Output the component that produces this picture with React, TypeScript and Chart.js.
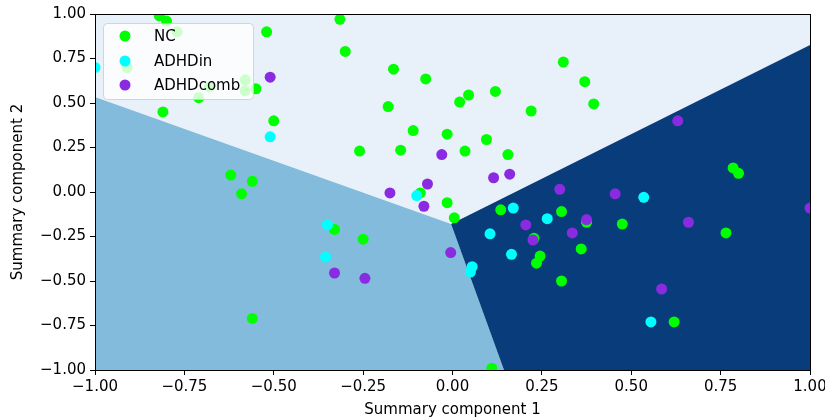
import React, { useEffect, useRef } from "react";
import { Chart, registerables } from "chart.js";

Chart.register(...registerables);

// ---- data ----
const ncPoints: [number, number][] = [
  [-0.82, 0.99], [-0.80, 0.96], [-0.77, 0.90], [-0.52, 0.90], [-0.91, 0.70],
  [-0.68, 0.59], [-0.71, 0.53], [-0.58, 0.63], [-0.58, 0.57], [-0.55, 0.58],
  [-0.81, 0.45], [-0.50, 0.40], [-0.62, 0.095], [-0.56, 0.06], [-0.59, -0.01],
  [-0.56, -0.71], [-0.315, 0.97], [-0.30, 0.79], [-0.165, 0.69], [-0.075, 0.635],
  [0.045, 0.545], [0.02, 0.505], [-0.18, 0.48], [-0.11, 0.345], [-0.015, 0.325],
  [-0.26, 0.23], [-0.145, 0.235], [0.035, 0.23], [0.12, 0.565], [0.22, 0.455],
  [0.095, 0.295], [0.155, 0.21], [0.31, 0.73], [0.37, 0.62], [0.395, 0.495],
  [0.785, 0.135], [0.80, 0.105], [-0.09, -0.005], [-0.015, -0.06], [0.005, -0.145],
  [-0.33, -0.21], [-0.25, -0.265], [0.135, -0.10], [0.305, -0.11], [0.375, -0.17],
  [0.475, -0.18], [0.228, -0.26], [0.36, -0.32], [0.245, -0.36], [0.235, -0.40],
  [0.305, -0.50], [0.62, -0.73], [0.765, -0.23], [0.11, -0.99],
];
const adhdInPoints: [number, number][] = [
  [-1.0, 0.70], [-0.51, 0.31], [-0.10, -0.02], [-0.35, -0.185], [-0.355, -0.365],
  [0.055, -0.42], [0.05, -0.45], [0.17, -0.09], [0.265, -0.15], [0.535, -0.03],
  [0.105, -0.235], [0.165, -0.35], [0.555, -0.73],
];
const adhdCombPoints: [number, number][] = [
  [-0.51, 0.645], [-0.03, 0.21], [-0.07, 0.045], [-0.175, -0.005], [-0.08, -0.08],
  [0.115, 0.08], [0.16, 0.10], [0.30, 0.015], [0.455, -0.01], [0.63, 0.40],
  [-0.005, -0.34], [-0.33, -0.455], [-0.245, -0.485], [0.205, -0.185], [0.375, -0.155],
  [0.225, -0.27], [0.335, -0.23], [0.585, -0.545], [0.66, -0.17], [1.0, -0.09],
];
const seriesNames = ["NC", "ADHDin", "ADHDcomb"];
const seriesColors = ["#00ff00", "#00ffff", "#8a2be2"];
const tickValues = [-1, -0.75, -0.5, -0.25, 0, 0.25, 0.5, 0.75, 1];

// decision region boundaries (data coordinates)
const boundaryVertex: [number, number] = [-0.004, -0.18];
const boundaryLeft: [number, number] = [-1, 0.534];
const boundaryRight: [number, number] = [1, 0.826];
const boundaryBottom: [number, number] = [0.144, -1];
const regions: { color: string; poly: [number, number][] }[] = [
  { color: "#e8f1fa", poly: [boundaryLeft, boundaryVertex, boundaryRight, [1, 1], [-1, 1]] },
  { color: "#82bbdb", poly: [boundaryLeft, boundaryVertex, boundaryBottom, [-1, -1]] },
  { color: "#083c7a", poly: [boundaryVertex, boundaryRight, [1, -1], boundaryBottom] },
];

const FONT = "DejaVu Sans";
const fmt = (v: number) => v.toFixed(2).replace("-", "\u2212");

export default function App() {
  const ref = useRef<HTMLCanvasElement | null>(null);
  useEffect(() => {
    document.body.style.margin = "0";
    const canvas = ref.current!;
    const regionPlugin = {
      id: "regions",
      beforeDatasetsDraw(chart: any) {
        const { ctx, scales } = chart;
        const xs = scales.x, ys = scales.y;
        ctx.save();
        for (const r of regions) {
          ctx.beginPath();
          r.poly.forEach(([x, y], i) => {
            const px = xs.getPixelForValue(x), py = ys.getPixelForValue(y);
            if (i === 0) ctx.moveTo(px, py); else ctx.lineTo(px, py);
          });
          ctx.closePath();
          ctx.fillStyle = r.color;
          ctx.fill();
        }
        ctx.restore();
      },
      afterDatasetsDraw(chart: any) {
        const { ctx, chartArea: a } = chart;
        ctx.save();
        ctx.strokeStyle = "#000";
        ctx.lineWidth = 1;
        ctx.strokeRect(Math.round(a.left) + 0.5, Math.round(a.top) + 0.5, Math.round(a.right - a.left), Math.round(a.bottom - a.top));
        ctx.restore();
      },
      afterDraw(chart: any) {
        const { ctx } = chart;
        ctx.save();
        const x0 = 103, y0 = 23, w = 150, h = 76, r = 4;
        ctx.beginPath();
        ctx.roundRect(x0 + 0.5, y0 + 0.5, w, h, r);
        ctx.fillStyle = "rgba(255,255,255,0.8)";
        ctx.fill();
        ctx.strokeStyle = "rgba(204,204,204,0.8)";
        ctx.lineWidth = 1;
        ctx.stroke();
        const rows = [36, 61, 85];
        seriesNames.forEach((name, i) => {
          ctx.beginPath();
          ctx.arc(125, rows[i], 5.5, 0, Math.PI * 2);
          ctx.fillStyle = seriesColors[i];
          ctx.fill();
          ctx.fillStyle = "#000";
          ctx.font = `15px "${FONT}"`;
          ctx.textBaseline = "middle";
          ctx.textAlign = "left";
          ctx.fillText(name, 154, rows[i] + 1);
        });
        ctx.restore();
      },
    };
    const mk = (i: number, pts: [number, number][], order: number) => ({
      label: seriesNames[i],
      data: pts.map(([x, y]) => ({ x, y })),
      backgroundColor: seriesColors[i],
      borderWidth: 0,
      pointRadius: 5.5,
      pointHoverRadius: 5.5,
      clip: 0,
      order,
    });
    const axisCommon = (title: string, pad: any, ticksPad: number) => ({
      type: "linear" as const,
      min: -1,
      max: 1,
      afterBuildTicks: (s: any) => { s.ticks = tickValues.map((v) => ({ value: v })); },
      ticks: {
        callback: (v: any) => fmt(Number(v)),
        font: { family: FONT, size: 15 },
        color: "#000",
        padding: ticksPad,
        maxRotation: 0,
        autoSkip: false,
      },
      grid: { drawOnChartArea: false, drawTicks: true, tickLength: 5, color: "#000", lineWidth: 1 },
      border: { display: true, color: "#000", width: 1 },
      title: { display: true, text: title, font: { family: FONT, size: 15 }, color: "#000", padding: pad },
    });
    const chart = new Chart(canvas, {
      type: "scatter",
      data: {
        datasets: [
          mk(0, ncPoints, 3),
          mk(1, adhdInPoints, 2),
          mk(2, adhdCombPoints, 1),
        ],
      },
      options: {
        animation: false,
        responsive: false,
        maintainAspectRatio: false,
        layout: { padding: { top: 14, right: 15, left: 0, bottom: 0 } },
        plugins: { legend: { display: false }, tooltip: { enabled: false } },
        scales: {
          x: {
            ...axisCommon("Summary component 1", { top: 0, bottom: 1 }, 3),
            afterFit: (s: any) => { s.height = 50; s.paddingLeft = 0; s.paddingRight = 0; },
          },
          y: {
            ...axisCommon("Summary component 2", { top: 9, bottom: 0 }, 4),
            afterFit: (s: any) => { s.width = 95; s.paddingTop = 0; s.paddingBottom = 0; },
          },
        },
      } as any,
      plugins: [regionPlugin],
    });
    return () => chart.destroy();
  }, []);
  return (
    <div style={{ width: 825, height: 420 }}>
      <canvas ref={ref} width={825} height={420} style={{ display: "block" }} />
    </div>
  );
}
